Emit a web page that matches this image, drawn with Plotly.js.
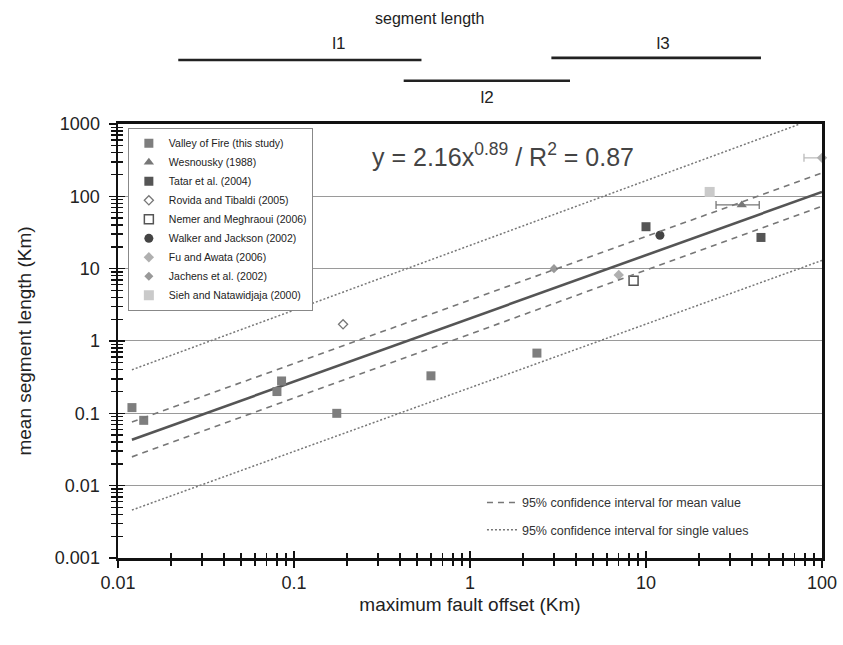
<!DOCTYPE html>
<html><head><meta charset="utf-8">
<script src="https://cdn.plot.ly/plotly-3.0.1.min.js"></script>
<style>html,body{margin:0;padding:0;background:#fff}</style>
</head><body><div id="chart" style="width:843px;height:645px"></div>
<script>
// ---- data ----
const valleyX = [0.012, 0.014, 0.08, 0.085, 0.175, 0.6, 2.4];
const valleyY = [0.12, 0.08, 0.2, 0.28, 0.1, 0.33, 0.68];
const wesX = [35];
const wesY = [76];
const wesErrMinus = [10];
const wesErrPlus = [9];
const tatarX = [10, 45];
const tatarY = [38, 27];
const rovidaX = [0.19];
const rovidaY = [1.7];
const nemerX = [8.5];
const nemerY = [6.8];
const walkerX = [12];
const walkerY = [29];
const fuX = [7, 100];
const fuY = [8.2, 340];
const fuErrMinus = [null, 21];
const fuErrPlus = [null, 0];
const jachensX = [3];
const jachensY = [10];
const siehX = [23];
const siehY = [115];

const fitX = [0.012, 100];
const fitY = [0.043, 115];
const meanUpperX = [0.012, 100];
const meanUpperY = [0.076, 210];
const meanLowerX = [0.012, 100];
const meanLowerY = [0.025, 73];
const singleUpperX = [0.012, 75];
const singleUpperY = [0.4, 1000];
const singleLowerX = [0.012, 100];
const singleLowerY = [0.0046, 13];

const segNames = ['l1', 'l2', 'l3'];
const segStart = [0.022, 0.42, 2.9];
const segEnd = [0.53, 3.7, 45];
const segLabelX = [0.18, 1.25, 12.5];

const xTickVals = [0.01, 0.1, 1, 10, 100];
const xTickText = ['0.01', '0.1', '1', '10', '100'];
const yTickVals = [0.001, 0.01, 0.1, 1, 10, 100, 1000];
const yTickText = ['0.001', '0.01', '0.1', '1', '10', '100', '1000'];

// ---- layout helpers ----
function minorVals(lo, hi) {
  const v = [];
  for (let e = lo; e < hi; e++) for (let d = 2; d <= 9; d++) v.push(d * Math.pow(10, e));
  return v;
}
const FONT = 'Liberation Sans, Arial, sans-serif';
const NARROW = 'Liberation Sans Narrow, Arial Narrow, sans-serif';
const segBarLevel = [0.52, 0.32, 0.54];
const segLabelLevel = [0.67, 0.15, 0.67];

const traces = [];
function pts(name, x, y, marker, extra) {
  return Object.assign({type: 'scatter', mode: 'markers', name, x, y, marker, legend: 'legend', cliponaxis: false}, extra || {});
}
// regression line
traces.push({type: 'scatter', mode: 'lines', x: fitX, y: fitY, line: {color: '#555', width: 2.6}, showlegend: false, hoverinfo: 'skip'});
traces.push(pts('Valley of Fire (this study)', valleyX, valleyY, {symbol: 'square', size: 9, color: '#7e7e7e'}));
traces.push(pts('Wesnousky (1988)', wesX, wesY, {symbol: 'triangle-up', size: 9, color: '#777'},
  {error_x: {type: 'data', symmetric: false, array: wesErrPlus, arrayminus: wesErrMinus, color: '#777', thickness: 1.3, width: 4}}));
traces.push(pts('Tatar et al. (2004)', tatarX, tatarY, {symbol: 'square', size: 9, color: '#555'}));
traces.push(pts('Rovida and Tibaldi (2005)', rovidaX, rovidaY, {symbol: 'diamond-open', size: 7, color: '#777', line: {width: 1.3}}));
traces.push(pts('Nemer and Meghraoui (2006)', nemerX, nemerY, {symbol: 'square-open', size: 9, color: '#555', line: {width: 1.5}}));
traces.push(pts('Walker and Jackson (2002)', walkerX, walkerY, {symbol: 'circle', size: 9, color: '#444'}));
traces.push(pts('Fu and Awata (2006)', fuX, fuY, {symbol: 'diamond', size: 8, color: '#b0b0b0'},
  {error_x: {type: 'data', symmetric: false, array: fuErrPlus, arrayminus: fuErrMinus, color: '#bbb', thickness: 1.3, width: 4}}));
traces.push(pts('Jachens et al. (2002)', jachensX, jachensY, {symbol: 'diamond', size: 7, color: '#999'}));
traces.push(pts('Sieh and Natawidjaja (2000)', siehX, siehY, {symbol: 'square', size: 10, color: '#cacaca'}));

// confidence interval lines (second legend, overlay axes with inward ticks)
const ci = {type: 'scatter', mode: 'lines', xaxis: 'x2', yaxis: 'y2', legend: 'legend2', hoverinfo: 'skip'};
traces.push(Object.assign({}, ci, {name: '95% confidence interval for mean value', legendgroup: 'm', x: meanUpperX, y: meanUpperY, line: {color: '#777', width: 1.6, dash: '6px,5px'}}));
traces.push(Object.assign({}, ci, {name: 'mean lower', legendgroup: 'm', showlegend: false, x: meanLowerX, y: meanLowerY, line: {color: '#777', width: 1.6, dash: '6px,5px'}}));
traces.push(Object.assign({}, ci, {name: '95% confidence interval for single values', legendgroup: 's', x: singleUpperX, y: singleUpperY, line: {color: '#777', width: 1.5, dash: '2px,2px'}}));
traces.push(Object.assign({}, ci, {name: 'single lower', legendgroup: 's', showlegend: false, x: singleLowerX, y: singleLowerY, line: {color: '#777', width: 1.5, dash: '2px,2px'}}));

// segment length bars above the plot
for (let i = 0; i < segNames.length; i++) {
  traces.push({type: 'scatter', mode: 'lines', x: [segStart[i], segEnd[i]], y: [segBarLevel[i], segBarLevel[i]],
    yaxis: 'y3', line: {color: '#222', width: 2.6}, showlegend: false, hoverinfo: 'skip', cliponaxis: false});
}
traces.push({type: 'scatter', mode: 'text', x: segLabelX, y: segLabelLevel, text: segNames, yaxis: 'y3',
  textfont: {family: NARROW, size: 17, color: '#222'}, showlegend: false, hoverinfo: 'skip', cliponaxis: false});

const xBase = {type: 'log', range: [-2, 2], tickmode: 'array', tickvals: xTickVals, showgrid: false, zeroline: false,
  tickcolor: '#111', tickwidth: 1.6, ticklen: 7,
  minor: {tickmode: 'array', tickvals: minorVals(-2, 2), ticklen: 5, tickwidth: 1.4, tickcolor: '#111', showgrid: false}};
const yBase = {type: 'log', range: [-3, 3], tickmode: 'array', tickvals: yTickVals, zeroline: false,
  tickcolor: '#111', tickwidth: 1.6, ticklen: 7,
  minor: {tickmode: 'array', tickvals: minorVals(-3, 3), ticklen: 5, tickwidth: 1.4, tickcolor: '#111', showgrid: false}};

const layout = {
  width: 843, height: 645,
  margin: {l: 118, r: 21, t: 10, b: 87},
  paper_bgcolor: '#fff', plot_bgcolor: '#fff',
  font: {family: FONT, color: '#222'},
  xaxis: Object.assign({}, xBase, {
    ticks: 'outside', ticktext: xTickText, showline: true, linecolor: '#111', linewidth: 2.5, mirror: true,
    tickfont: {size: 18, color: '#222'}, anchor: 'y',
    minor: Object.assign({}, xBase.minor, {ticks: 'outside'}),
    title: {text: 'maximum fault offset (Km)', font: {size: 19, color: '#222'}, standoff: 6}
  }),
  xaxis2: Object.assign({}, xBase, {
    overlaying: 'x', side: 'bottom', anchor: 'y', ticks: 'inside', showticklabels: false, showline: false,
    minor: Object.assign({}, xBase.minor, {ticks: 'inside'})
  }),
  yaxis: Object.assign({}, yBase, {
    domain: [0, 0.792], anchor: 'x',
    ticks: 'outside', ticktext: yTickText, showgrid: true, gridcolor: '#9a9a9a', gridwidth: 1,
    showline: true, linecolor: '#111', linewidth: 2.5, mirror: true,
    tickfont: {size: 18, color: '#222'}, ticklabelstandoff: 5,
    minor: Object.assign({}, yBase.minor, {ticks: 'outside'}),
    title: {text: 'mean segment length (Km)', font: {size: 19, color: '#222'}, standoff: 18}
  }),
  yaxis2: Object.assign({}, yBase, {
    overlaying: 'y', side: 'left', anchor: 'x', ticks: 'inside', showticklabels: false, showline: false, showgrid: false,
    minor: Object.assign({}, yBase.minor, {ticks: 'inside'})
  }),
  yaxis3: {domain: [0.81, 1], anchor: 'x', range: [0, 1], visible: false, fixedrange: true},
  legend: {
    x: 0.014, y: 0.785, xanchor: 'left', yanchor: 'top',
    bgcolor: '#fff', bordercolor: '#888', borderwidth: 1,
    font: {family: FONT, size: 10.5, color: '#222'}, itemsizing: 'trace', traceorder: 'normal'
  },
  legend2: {
    x: 0.517, y: 0.128, xanchor: 'left', yanchor: 'top', bgcolor: 'rgba(0,0,0,0)', borderwidth: 0,
    font: {family: FONT, size: 12.5, color: '#333'}, tracegroupgap: 8
  },
  annotations: [
    {xref: 'paper', yref: 'paper', x: 0.547, y: 0.735, xanchor: 'center', yanchor: 'middle', showarrow: false,
     text: 'y = 2.16x<sup>0.89</sup> / R<sup>2</sup> = 0.87', font: {family: FONT, size: 25, color: '#444'}},
    {xref: 'paper', yref: 'paper', x: 0.443, y: 0.985, xanchor: 'center', yanchor: 'middle', showarrow: false,
     text: 'segment length', font: {family: NARROW, size: 16, color: '#222'}}
  ],
  showlegend: true
};

Plotly.newPlot('chart', traces, layout, {displayModeBar: false, staticPlot: true});
</script>
</body></html>
